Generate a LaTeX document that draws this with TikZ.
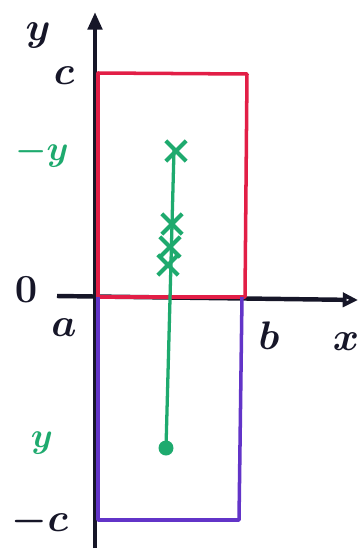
\RequirePackage{fix-cm}
\documentclass[tikz,border=0pt]{standalone}
\usepackage{amsmath}
\usepackage{tikz}
\usetikzlibrary{arrows.meta,shapes.misc}

\definecolor{penblack}{RGB}{22,22,40}
\definecolor{penred}{RGB}{226,30,70}
\definecolor{penpurple}{RGB}{98,52,200}
\definecolor{pengreen}{RGB}{30,170,110}

\begin{document}
\begin{tikzpicture}[x=0.03cm, y=-0.03cm,
    axis/.style={draw=penblack, line width=3.8pt},
    boxred/.style={draw=penred, line width=3pt, line join=round},
    boxpurple/.style={draw=penpurple, line width=3pt, line join=round},
    path/.style={draw=pengreen, line width=2.8pt},
    point/.style={cross out, draw=pengreen, line width=3.4pt, minimum size=14pt, inner sep=0pt},
    lbl/.style={text=penblack, font=\fontsize{34}{38}\selectfont\boldmath},
    glbl/.style={text=pengreen, font=\fontsize{30}{34}\selectfont\boldmath}]
  \useasboundingbox (0,0) rectangle (360,550);
  % axes
  \coordinate (ybot) at (95,548);
  \coordinate (ytop) at (95,12);
  \coordinate (xl) at (57,296);
  \coordinate (xr) at (358,300);
  \draw[axis, -{Triangle[length=15pt,width=12pt]}] (ybot) -- (ytop);
  \draw[axis, -{Triangle[open,length=13pt,width=12pt]}] (xl) -- (xr);
  % rectangles
  \coordinate (r1) at (98,297);
  \coordinate (r2) at (98,73);
  \coordinate (r3) at (247,74);
  \coordinate (r4) at (245,297);
  \coordinate (p1) at (98,297);
  \coordinate (p2) at (98,520);
  \coordinate (p3) at (239,520);
  \coordinate (p4) at (242,297);
  \draw[boxred] (r1) -- (r2) -- (r3) -- (r4) -- cycle;
  \draw[boxpurple] (p1) -- (p2) -- (p3) -- (p4);
  % path of y
  \coordinate (g1) at (174,150);
  \coordinate (g2) at (166,448);
  \draw[path] (g1) -- (g2);
  \fill[pengreen] (g2) circle (7.5);
  \node[point] (m1) at (176,151) {};
  \node[point] (m2) at (172,224) {};
  \node[point] (m3) at (170,247) {};
  \node[point] (m4) at (168,265) {};
  % labels
  \node[lbl] (ly) at (38,36) {$y$};
  \node[lbl] (lc) at (64,76) {$c$};
  \node[glbl] (lmy) at (42,153) {$-y$};
  \node[lbl] (l0) at (26,290) {$0$};
  \node[lbl] (la) at (64,328) {$a$};
  \node[lbl] (lb) at (269,336) {$b$};
  \node[lbl] (lx) at (346,342) {$x$};
  \node[glbl] (lgy) at (42,443) {$y$};
  \node[lbl] (lmc) at (40,522) {$-c$};
\end{tikzpicture}
\end{document}
